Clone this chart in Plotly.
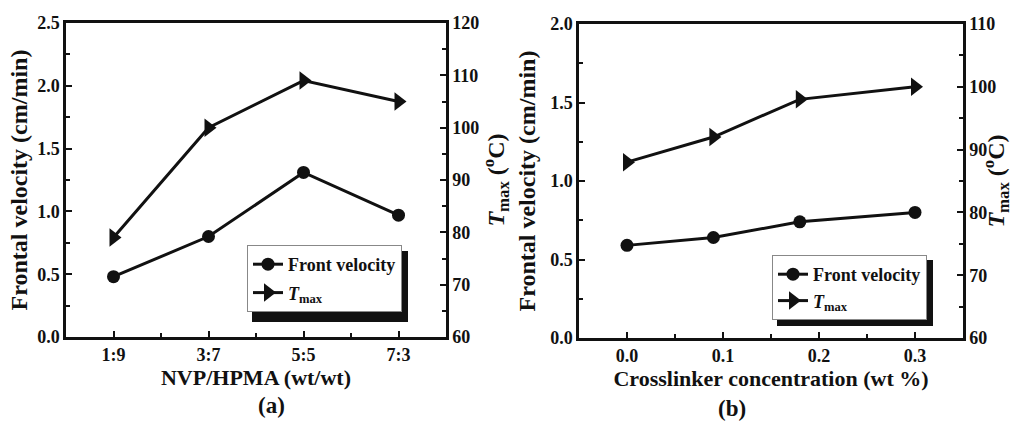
import plotly.graph_objects as go

# Panel (a)
ratio_labels = ["1:9", "3:7", "5:5", "7:3"]
vel_a = [0.48, 0.80, 1.31, 0.97]
tmax_a = [79, 100, 109, 105]

# Panel (b)
crosslinker = [0.0, 0.09, 0.18, 0.30]
vel_b = [0.59, 0.64, 0.74, 0.80]
tmax_b = [88, 92, 98, 100]
crosslinker_ticks = [0.0, 0.1, 0.2, 0.3]

W, H = 1013, 427
FONT = "Liberation Serif"
BLACK = "#111111"

xa = list(range(len(ratio_labels)))

fig = go.Figure()

line = dict(color=BLACK, width=3)
fig.add_trace(go.Scatter(x=xa, y=vel_a, mode="lines+markers", name="Front velocity",
                         line=line, marker=dict(symbol="circle", size=13, color=BLACK),
                         xaxis="x", yaxis="y", legend="legend", legendgroup="a1"))
fig.add_trace(go.Scatter(x=xa, y=tmax_a, mode="lines+markers", name="<i>T</i><sub>max</sub>",
                         line=line, marker=dict(symbol="triangle-right", size=16, color=BLACK),
                         xaxis="x", yaxis="y2", legend="legend", legendgroup="a2"))
fig.add_trace(go.Scatter(x=crosslinker, y=vel_b, mode="lines+markers", name="Front velocity",
                         line=line, marker=dict(symbol="circle", size=13, color=BLACK),
                         xaxis="x2", yaxis="y3", legend="legend2", legendgroup="b1"))
fig.add_trace(go.Scatter(x=crosslinker, y=tmax_b, mode="lines+markers", name="<i>T</i><sub>max</sub>",
                         line=line, marker=dict(symbol="triangle-right", size=16, color=BLACK),
                         xaxis="x2", yaxis="y4", legend="legend2", legendgroup="b2"))

tickfont = dict(family=FONT, size=18, color=BLACK, weight="bold")
ytitlefont = dict(family=FONT, size=24, color=BLACK, weight="bold")
xtitlefont = dict(family=FONT, size=22, color=BLACK, weight="bold")

def ax(**kw):
    d = dict(showline=True, linecolor=BLACK, linewidth=2.5, ticks="inside", ticklen=6,
             tickwidth=2, tickcolor=BLACK, tickfont=tickfont, showgrid=False, zeroline=False,
             title_font=ytitlefont, automargin=False)
    d.update(kw)
    return d

minor = lambda dt: dict(ticks="inside", ticklen=4, tickwidth=2, tickcolor=BLACK, dtick=dt, showgrid=False)

dom_xa = [66 / W, 446 / W]
dom_xb = [579 / W, 963 / W]
dom_ya = [1 - 337 / H, 1 - 23 / H]
dom_yb = [1 - 338 / H, 1 - 24 / H]

legfont = dict(family=FONT, size=18, color=BLACK, weight="bold")

fig.update_layout(
    template="none",
    width=W, height=H, margin=dict(l=0, r=0, t=0, b=0, autoexpand=False),
    paper_bgcolor="white", plot_bgcolor="white",
    xaxis=ax(domain=dom_xa, anchor="y", range=[-0.5, 3.5], tickvals=xa, ticktext=ratio_labels,
             mirror=True, minor=dict(ticks="inside", ticklen=4, tickwidth=2, tickcolor=BLACK,
                                     tickvals=[i + 0.5 for i in xa[:-1]]),
             title=dict(text="NVP/HPMA (wt/wt)", standoff=6, font=xtitlefont)),
    yaxis=ax(domain=dom_ya, anchor="x", range=[0, 2.5], dtick=0.5, tickformat=".1f",
             minor=minor(0.25), title=dict(text="Frontal velocity (cm/min)", standoff=3)),
    yaxis2=ax(domain=dom_ya, anchor="x", overlaying="y", side="right", range=[60, 120], dtick=10,
              minor=minor(5), title=dict(text="<i>T</i><sub>max</sub> (<sup>o</sup>C)", standoff=0)),
    xaxis2=ax(domain=dom_xb, anchor="y3", range=[-0.05, 0.35], tickvals=crosslinker_ticks,
              tickformat=".1f", mirror=True, minor=minor(0.05),
              title=dict(text="Crosslinker concentration (wt %)", standoff=6, font=xtitlefont)),
    yaxis3=ax(domain=dom_yb, anchor="x2", range=[0, 2.0], dtick=0.5, tickformat=".1f",
              minor=minor(0.25), title=dict(text="Frontal velocity (cm/min)", standoff=8)),
    yaxis4=ax(domain=dom_yb, anchor="x2", overlaying="y3", side="right", range=[60, 110], dtick=10,
              minor=minor(5), title=dict(text="<i>T</i><sub>max</sub> (<sup>o</sup>C)", standoff=2)),
    legend=dict(x=247 / W, y=1 - 245 / H, xanchor="left", yanchor="top", bgcolor="white",
                bordercolor="#888888", borderwidth=1, font=legfont, tracegroupgap=2, itemwidth=30),
    legend2=dict(x=772 / W, y=1 - 255 / H, xanchor="left", yanchor="top", bgcolor="white",
                 bordercolor="#888888", borderwidth=1, font=legfont, tracegroupgap=0, itemwidth=30),
    showlegend=True,
)

# Legend shadows
for (x0, y0, x1, y1) in [(252, 251, 408, 322), (777, 260, 933, 326)]:
    fig.add_shape(type="rect", xref="paper", yref="paper", x0=x0 / W, x1=x1 / W,
                  y0=1 - y1 / H, y1=1 - y0 / H, fillcolor=BLACK, line=dict(width=0), layer="above")

fig.add_annotation(text="(a)", x=256 / W, y=1 - 405 / H, xref="paper", yref="paper",
                   yanchor="middle", showarrow=False,
                   font=dict(family=FONT, size=23, color=BLACK, weight="bold"))
fig.add_annotation(text="(b)", x=748 / W, y=1 - 408 / H, xref="paper", yref="paper",
                   yanchor="middle", showarrow=False,
                   font=dict(family=FONT, size=23, color=BLACK, weight="bold"))

fig.write_html("out.html", config={"displayModeBar": False},
               post_script="document.body.style.margin='0';document.body.style.overflow='hidden';")
